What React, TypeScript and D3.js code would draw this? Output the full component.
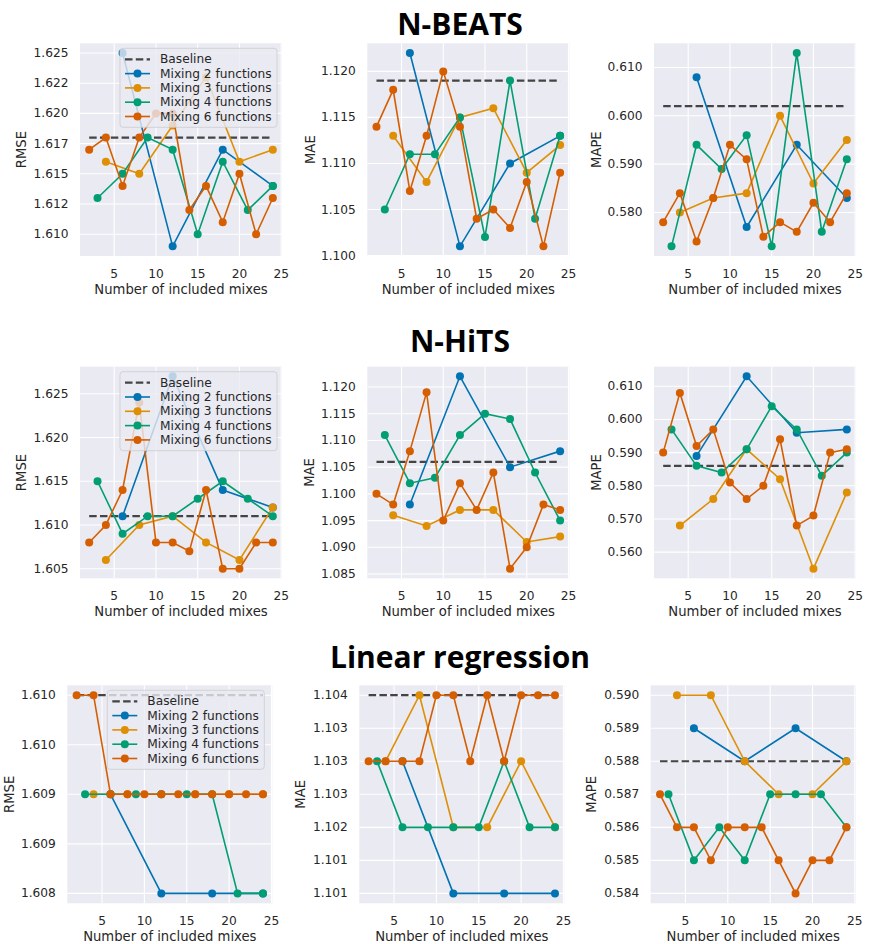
import React from 'react';
import * as d3 from 'd3';

// ---------- data ----------
const xMix2 = [6, 12, 18, 24];
const xMix3 = [4, 8, 12, 16, 20, 24];
const xMix4 = [3, 6, 9, 12, 15, 18, 21, 24];
const xMix6 = [2, 4, 6, 8, 10, 12, 14, 16, 18, 20, 22, 24];
const seriesX = [xMix2, xMix3, xMix4, xMix6];
const xTicks = [5, 10, 15, 20, 25];
const seriesNames = ['Mixing 2 functions', 'Mixing 3 functions', 'Mixing 4 functions', 'Mixing 6 functions'];
const seriesColors = ['#0173b2', '#de8f05', '#029e73', '#d55e00'];
const modelTitles = ['N-BEATS', 'N-HiTS', 'Linear regression'];
const metricNames = ['RMSE', 'MAE', 'MAPE'];
const xLabel = 'Number of included mixes';

// N-BEATS
const nbeatsRmseBaseline = 1.618;
const nbeatsRmse2 = [1.625, 1.609, 1.617, 1.614];
const nbeatsRmse3 = [1.616, 1.615, 1.619, 1.623, 1.616, 1.617];
const nbeatsRmse4 = [1.613, 1.615, 1.618, 1.617, 1.61, 1.616, 1.612, 1.614];
const nbeatsRmse6 = [1.617, 1.618, 1.614, 1.618, 1.62, 1.62, 1.612, 1.614, 1.611, 1.615, 1.61, 1.613];
const nbeatsRmseTicks = [1.61, 1.6125, 1.615, 1.6175, 1.62, 1.6225, 1.625];
const nbeatsRmseTickLabels = ['1.610', '1.612', '1.615', '1.617', '1.620', '1.622', '1.625'];

const nbeatsMaeBaseline = 1.119;
const nbeatsMae2 = [1.122, 1.101, 1.11, 1.113];
const nbeatsMae3 = [1.113, 1.108, 1.115, 1.116, 1.109, 1.112];
const nbeatsMae4 = [1.105, 1.111, 1.111, 1.115, 1.102, 1.119, 1.104, 1.113];
const nbeatsMae6 = [1.114, 1.118, 1.107, 1.113, 1.12, 1.114, 1.104, 1.105, 1.103, 1.108, 1.101, 1.109];
const nbeatsMaeTicks = [1.1, 1.105, 1.11, 1.115, 1.12];
const nbeatsMaeTickLabels = ['1.100', '1.105', '1.110', '1.115', '1.120'];

const nbeatsMapeBaseline = 0.602;
const nbeatsMape2 = [0.608, 0.577, 0.594, 0.583];
const nbeatsMape3 = [0.58, 0.583, 0.584, 0.6, 0.586, 0.595];
const nbeatsMape4 = [0.573, 0.594, 0.589, 0.596, 0.573, 0.613, 0.576, 0.591];
const nbeatsMape6 = [0.578, 0.584, 0.574, 0.583, 0.594, 0.591, 0.575, 0.578, 0.576, 0.582, 0.578, 0.584];
const nbeatsMapeTicks = [0.58, 0.59, 0.6, 0.61];
const nbeatsMapeTickLabels = ['0.580', '0.590', '0.600', '0.610'];

// N-HiTS
const nhitsRmseBaseline = 1.611;
const nhitsRmse2 = [1.611, 1.627, 1.614, 1.612];
const nhitsRmse3 = [1.606, 1.61, 1.611, 1.608, 1.606, 1.612];
const nhitsRmse4 = [1.615, 1.609, 1.611, 1.611, 1.613, 1.615, 1.613, 1.611];
const nhitsRmse6 = [1.608, 1.61, 1.614, 1.624, 1.608, 1.608, 1.607, 1.614, 1.605, 1.605, 1.608, 1.608];
const nhitsRmseTicks = [1.605, 1.61, 1.615, 1.62, 1.625];
const nhitsRmseTickLabels = ['1.605', '1.610', '1.615', '1.620', '1.625'];

const nhitsMaeBaseline = 1.106;
const nhitsMae2 = [1.098, 1.122, 1.105, 1.108];
const nhitsMae3 = [1.096, 1.094, 1.097, 1.097, 1.091, 1.092];
const nhitsMae4 = [1.111, 1.102, 1.103, 1.111, 1.115, 1.114, 1.104, 1.095];
const nhitsMae6 = [1.1, 1.098, 1.108, 1.119, 1.095, 1.102, 1.097, 1.104, 1.086, 1.09, 1.098, 1.097];
const nhitsMaeTicks = [1.085, 1.09, 1.095, 1.1, 1.105, 1.11, 1.115, 1.12];
const nhitsMaeTickLabels = ['1.085', '1.090', '1.095', '1.100', '1.105', '1.110', '1.115', '1.120'];

const nhitsMapeBaseline = 0.586;
const nhitsMape2 = [0.589, 0.613, 0.596, 0.597];
const nhitsMape3 = [0.568, 0.576, 0.591, 0.582, 0.555, 0.578];
const nhitsMape4 = [0.597, 0.586, 0.584, 0.591, 0.604, 0.597, 0.583, 0.59];
const nhitsMape6 = [0.59, 0.608, 0.592, 0.597, 0.581, 0.576, 0.58, 0.594, 0.568, 0.571, 0.59, 0.591];
const nhitsMapeTicks = [0.56, 0.57, 0.58, 0.59, 0.6, 0.61];
const nhitsMapeTickLabels = ['0.560', '0.570', '0.580', '0.590', '0.600', '0.610'];

// Linear regression
const linRmseBaseline = 1.61;
const linRmse2 = [1.609, 1.608, 1.608, 1.608];
const linRmse3 = [1.609, 1.609, 1.609, 1.609, 1.609, 1.609];
const linRmse4 = [1.609, 1.609, 1.609, 1.609, 1.609, 1.609, 1.608, 1.608];
const linRmse6 = [1.61, 1.61, 1.609, 1.609, 1.609, 1.609, 1.609, 1.609, 1.609, 1.609, 1.609, 1.609];
const linRmseTicks = [1.608, 1.6085, 1.609, 1.6095, 1.61];
const linRmseTickLabels = ['1.608', '1.609', '1.609', '1.610', '1.610'];

const linMaeBaseline = 1.104;
const linMae2 = [1.103, 1.101, 1.101, 1.101];
const linMae3 = [1.103, 1.104, 1.102, 1.102, 1.103, 1.102];
const linMae4 = [1.103, 1.102, 1.102, 1.102, 1.102, 1.103, 1.102, 1.102];
const linMae6 = [1.103, 1.103, 1.103, 1.103, 1.104, 1.104, 1.103, 1.104, 1.103, 1.104, 1.104, 1.104];
const linMaeTicks = [1.101, 1.1015, 1.102, 1.1025, 1.103, 1.1035, 1.104];
const linMaeTickLabels = ['1.101', '1.101', '1.102', '1.103', '1.103', '1.103', '1.104'];

const linMapeBaseline = 0.588;
const linMape2 = [0.589, 0.588, 0.589, 0.588];
const linMape3 = [0.59, 0.59, 0.588, 0.587, 0.587, 0.588];
const linMape4 = [0.587, 0.585, 0.586, 0.585, 0.587, 0.587, 0.587, 0.586];
const linMape6 = [0.587, 0.586, 0.586, 0.585, 0.586, 0.586, 0.586, 0.585, 0.584, 0.585, 0.585, 0.586];
const linMapeTicks = [0.584, 0.585, 0.586, 0.587, 0.588, 0.589, 0.59];
const linMapeTickLabels = ['0.584', '0.585', '0.586', '0.587', '0.588', '0.589', '0.590'];

const panelData = [
  [
    { baseline: nbeatsRmseBaseline, series: [nbeatsRmse2, nbeatsRmse3, nbeatsRmse4, nbeatsRmse6], ticks: nbeatsRmseTicks, labels: nbeatsRmseTickLabels },
    { baseline: nbeatsMaeBaseline, series: [nbeatsMae2, nbeatsMae3, nbeatsMae4, nbeatsMae6], ticks: nbeatsMaeTicks, labels: nbeatsMaeTickLabels },
    { baseline: nbeatsMapeBaseline, series: [nbeatsMape2, nbeatsMape3, nbeatsMape4, nbeatsMape6], ticks: nbeatsMapeTicks, labels: nbeatsMapeTickLabels },
  ],
  [
    { baseline: nhitsRmseBaseline, series: [nhitsRmse2, nhitsRmse3, nhitsRmse4, nhitsRmse6], ticks: nhitsRmseTicks, labels: nhitsRmseTickLabels },
    { baseline: nhitsMaeBaseline, series: [nhitsMae2, nhitsMae3, nhitsMae4, nhitsMae6], ticks: nhitsMaeTicks, labels: nhitsMaeTickLabels },
    { baseline: nhitsMapeBaseline, series: [nhitsMape2, nhitsMape3, nhitsMape4, nhitsMape6], ticks: nhitsMapeTicks, labels: nhitsMapeTickLabels },
  ],
  [
    { baseline: linRmseBaseline, series: [linRmse2, linRmse3, linRmse4, linRmse6], ticks: linRmseTicks, labels: linRmseTickLabels },
    { baseline: linMaeBaseline, series: [linMae2, linMae3, linMae4, linMae6], ticks: linMaeTicks, labels: linMaeTickLabels },
    { baseline: linMapeBaseline, series: [linMape2, linMape3, linMape4, linMape6], ticks: linMapeTicks, labels: linMapeTickLabels },
  ],
];

// ---------- layout ----------
const rowLayouts = [
  { titleY: 35, top: 43.3, height: 212.7, lefts: [80, 367.3, 654], width: 202, ylabelX: [21.7, 310, 596] },
  { titleY: 351.7, top: 366.7, height: 211.6, lefts: [80, 367.3, 654], width: 202, ylabelX: [21.7, 309.3, 596] },
  { titleY: 668, top: 685.3, height: 218, lefts: [67.3, 359.3, 650.7], width: 205, ylabelX: [9.3, 300.7, 591.7] },
];

const FONT = 'DejaVu Sans, sans-serif';
const TXT = '#262626';

function Panel({ d, lay, col, showLegend, metric }) {
  const left = lay.lefts[col];
  const top = lay.top;
  const w = lay.width;
  const h = lay.height;
  const x = d3.scaleLinear().domain([0.9, 25.1]).range([left, left + w]);
  const all = [...d.series.flat(), d.baseline];
  const [mn, mx] = d3.extent(all) as [number, number];
  const pad = (mx - mn) * 0.05;
  const y = d3.scaleLinear().domain([mn - pad, mx + pad]).range([top + h, top]);
  const line = d3.line<[number, number]>().x((p) => x(p[0])).y((p) => y(p[1]));
  const xMin = d3.min(seriesX.flat()) as number;
  const xMax = d3.max(seriesX.flat()) as number;
  const lg = { x: left + 40, y: top + 5, w: 157, h: 79 };
  return (
    <g>
      <rect x={left} y={top} width={w} height={h} fill="#eaeaf2" />
      {xTicks.map((t) => (
        <line key={'gx' + t} x1={x(t)} x2={x(t)} y1={top} y2={top + h} stroke="#fff" strokeWidth={1.1} />
      ))}
      {d.ticks.map((t) => (
        <line key={'gy' + t} x1={left} x2={left + w} y1={y(t)} y2={y(t)} stroke="#fff" strokeWidth={1.1} />
      ))}
      {xTicks.map((t) => (
        <text key={'tx' + t} x={x(t)} y={top + h + 17.5} textAnchor="middle" dominantBaseline="central" fontSize={12.2} fill={TXT} fontFamily={FONT}>
          {t}
        </text>
      ))}
      {d.ticks.map((t, i) => (
        <text key={'ty' + t} x={left - 11.5} y={y(t)} textAnchor="end" dominantBaseline="central" fontSize={12.2} fill={TXT} fontFamily={FONT}>
          {d.labels[i]}
        </text>
      ))}
      <text x={left + w / 2} y={top + h + 33.5} textAnchor="middle" dominantBaseline="central" fontSize={13.2} fill={TXT} fontFamily={FONT}>
        {xLabel}
      </text>
      <text
        transform={`translate(${lay.ylabelX[col]},${top + h / 2}) rotate(-90)`}
        textAnchor="middle"
        dominantBaseline="central"
        fontSize={13.2}
        fill={TXT}
        fontFamily={FONT}
      >
        {metric}
      </text>
      <line x1={x(xMin)} x2={x(xMax)} y1={y(d.baseline)} y2={y(d.baseline)} stroke="#444" strokeWidth={2.2} strokeDasharray="7.5 3.3" />
      {d.series.map((vals, si) => {
        const pts = seriesX[si].map((xv, i) => [xv, vals[i]] as [number, number]);
        return (
          <g key={'s' + si}>
            <path d={line(pts) || ''} fill="none" stroke={seriesColors[si]} strokeWidth={1.6} />
            {pts.map((p, i) => (
              <circle key={i} cx={x(p[0])} cy={y(p[1])} r={4} fill={seriesColors[si]} />
            ))}
          </g>
        );
      })}
      {showLegend && (
        <g>
          <rect x={lg.x} y={lg.y} width={lg.w} height={lg.h} rx={3} fill="#eaeaf2" fillOpacity={0.8} stroke="#cccccc" strokeOpacity={0.8} />
          {['Baseline', ...seriesNames].map((name, i) => {
            const cy = lg.y + 11 + i * 14.3;
            return (
              <g key={name}>
                {i === 0 ? (
                  <line x1={lg.x + 5} x2={lg.x + 30} y1={cy} y2={cy} stroke="#444" strokeWidth={2.2} strokeDasharray="7.5 3.3" />
                ) : (
                  <g>
                    <line x1={lg.x + 5} x2={lg.x + 30} y1={cy} y2={cy} stroke={seriesColors[i - 1]} strokeWidth={1.6} />
                    <circle cx={lg.x + 17.5} cy={cy} r={4} fill={seriesColors[i - 1]} />
                  </g>
                )}
                <text x={lg.x + 40} y={cy} dominantBaseline="central" fontSize={12.2} fill={TXT} fontFamily={FONT}>
                  {name}
                </text>
              </g>
            );
          })}
        </g>
      )}
    </g>
  );
}

export default function App() {
  return (
    <div>
      <style>{`body{margin:0;background:#fff}`}</style>
      <svg width={881} height={944} style={{ display: 'block' }}>
        <rect x={0} y={0} width={881} height={944} fill="#fff" />
        {rowLayouts.map((lay, r) => (
          <g key={'r' + r}>
            <text x={460} y={lay.titleY} textAnchor="middle" fontSize={30} fontWeight={700} fontFamily="Open Sans, sans-serif" fill="#000">
              {modelTitles[r]}
            </text>
            {panelData[r].map((d, c) => (
              <Panel key={c} d={d} lay={lay} col={c} showLegend={c === 0} metric={metricNames[c]} />
            ))}
          </g>
        ))}
      </svg>
    </div>
  );
}
